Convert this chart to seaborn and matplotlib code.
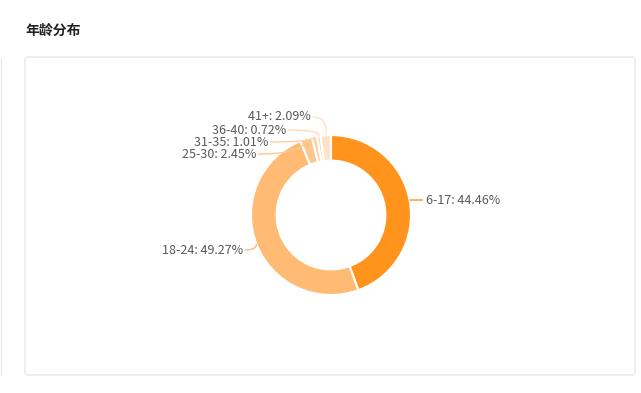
import numpy as np
import matplotlib.pyplot as plt
import seaborn as sns
from matplotlib.patches import FancyBboxPatch
from matplotlib.path import Path
from matplotlib.patches import PathPatch

# data
ages = ['6-17', '18-24', '25-30', '31-35', '36-40', '41+']
shares = [44.46, 49.27, 2.45, 1.01, 0.72, 2.09]
colors = ['#FF931C', '#FFBB73', '#FFC68E', '#FFD0A2', '#FFDAB6', '#FFE3C9']

# label anchors (pixel coords, end of leader line next to the text) and side
label_pos = [(423, 200), (245, 250), (258, 154), (270, 142), (288, 130), (313, 117)]
label_side = ['r', 'l', 'l', 'l', 'l', 'l']

W, H = 641, 393
sns.set_style('white')
plt.rcParams['font.family'] = ['Noto Sans CJK SC', 'DejaVu Sans']

fig = plt.figure(figsize=(W / 100, H / 100), dpi=100)
ax = fig.add_axes([0, 0, 1, 1])

def py(y):
    return H - y

# panel frame
ax.add_patch(FancyBboxPatch((25, py(375)), 610, 318, boxstyle='round,pad=0,rounding_size=3',
                            fc='white', ec='#e8e8e8', lw=1))
ax.plot([0.5, 0.5], [py(58), py(375)], color='#e8e8e8', lw=1)
ax.text(25, py(31), '年龄分布', fontsize=10, fontweight='bold', color='#222222', va='center')

cx, cy, r = 331, py(215), 80
wedges, _ = ax.pie(shares, colors=colors, startangle=90, counterclock=False,
                   center=(cx, cy), radius=r, frame=True,
                   wedgeprops=dict(width=r * 0.32, edgecolor='white', linewidth=1.5))
ax.set_xlim(0, W)
ax.set_ylim(0, H)
ax.set_aspect('equal')
ax.axis('off')

for w, lab, val, col, (lx, ly), side in zip(wedges, ages, shares, colors, label_pos, label_side):
    th = np.deg2rad((w.theta1 + w.theta2) / 2)
    ex, ey = cx + r * np.cos(th), cy + r * np.sin(th)
    lyp = py(ly)
    if side == 'r':
        ex, ey = cx + np.sqrt(r ** 2 - (lyp - cy) ** 2), lyp
        ctrl = (ex + 4, lyp)
    elif ey > lyp:
        ctrl = (ex, lyp)
    else:
        ctrl = (ex + 2, lyp)
    path = Path([(ex, ey), ctrl, (lx, lyp)], [Path.MOVETO, Path.CURVE3, Path.CURVE3])
    ax.add_patch(PathPatch(path, fc='none', ec=col, lw=1))
    txt = f'{lab}: {val:.2f}%'
    if side == 'r':
        ax.text(lx + 3, lyp, txt, fontsize=9, color='#595959', ha='left', va='center')
    else:
        ax.text(lx - 2, lyp, txt, fontsize=9, color='#595959', ha='right', va='center')

fig.savefig('out.png', dpi=100)
